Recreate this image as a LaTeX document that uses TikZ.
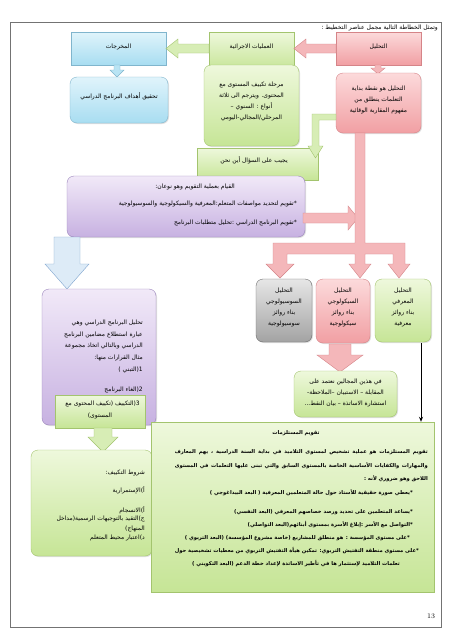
\documentclass[tikz,border=0pt]{standalone}
\usepackage{fontspec}
\usetikzlibrary{shadows,arrows.meta}
\TeXXeTstate=1
\newfontfamily\arabicfont[Script=Arabic]{DejaVu Sans}
\newcommand\rtlline[1]{\beginR #1\endR}
\definecolor{gT}{HTML}{EEF8DC}\definecolor{gD}{HTML}{C6E596}\definecolor{gB}{HTML}{A3C46E}
\definecolor{pT}{HTML}{FCDADB}\definecolor{pD}{HTML}{F19FA3}\definecolor{pB}{HTML}{D58488}
\definecolor{bT}{HTML}{E0F4FB}\definecolor{bD}{HTML}{A8DDF1}\definecolor{bB}{HTML}{80B5CD}
\definecolor{vT}{HTML}{F1E9F8}\definecolor{vD}{HTML}{C7B1E1}\definecolor{vB}{HTML}{9B85BC}
\definecolor{kT}{HTML}{E6E6E6}\definecolor{kD}{HTML}{A3A3A3}\definecolor{kB}{HTML}{6E6E6E}
\definecolor{lbF}{HTML}{DDEBF7}\definecolor{lbB}{HTML}{7FA5CF}
\tikzset{
  gbox/.style={draw=gB, top color=gT, bottom color=gD},
  pbox/.style={draw=pB, top color=pT, bottom color=pD},
  bbox/.style={draw=bB, top color=bT, bottom color=bD},
  vbox/.style={draw=vB, top color=vT, bottom color=vD},
  kbox/.style={draw=kB, top color=kT, bottom color=kD},
  rnd/.style={rounded corners=7pt},
  sh/.style={drop shadow={shadow xshift=1pt, shadow yshift=-1pt, opacity=0.25}},
  txt/.style={font=\arabicfont\fontsize{6}{11}\selectfont, align=center, inner sep=0pt},
  btxt/.style={font=\arabicfont\bfseries\fontsize{5.2}{7}\selectfont, inner sep=0pt},
  garrow/.style={draw=gB, fill=gD!70},
  parrow/.style={draw=pB, fill=pD!75},
  barrow/.style={draw=bB, fill=bD!80},
  lbarrow/.style={draw=lbB, fill=lbF},
  frame/.style={draw=black!55, line width=0.6pt},
}
\begin{document}
\begin{tikzpicture}[x=1pt,y=1pt]
\useasboundingbox (0,0) rectangle (452,-640);
\fill[white] (0,0) rectangle (452,-640);
\draw[frame] (10,-22) rectangle (441,-627);
\node[txt, anchor=east] (title) at (438,-28) {\rtlline{وتمثل الخطاطة التالية مجمل عناصر التخطيط :}};
\node[font=\fontsize{7}{8}\selectfont] (pg) at (431,-616) {13};

% top row
\node[bbox, sh, minimum width=95pt, minimum height=33pt] (out) at (118.5,-48.5) {};
\node[gbox, sh, minimum width=85pt, minimum height=38pt] (proc) at (251.5,-51) {};
\node[pbox, sh, minimum width=85pt, minimum height=33pt] (ana) at (378.5,-48.5) {};
\node[txt] (outt) at (118.5,-47) {\rtlline{المخرجات}};
\node[txt] (proct) at (251.5,-47) {\rtlline{العمليات الاجرائية}};
\node[txt] (anat) at (378.5,-47) {\rtlline{التحليل}};

\path[parrow] (336,-44) -- (306,-44) -- (306,-39) -- (294,-48.5) -- (306,-58) -- (306,-53) -- (336,-53) -- cycle;
\path[garrow] (209,-44) -- (178,-44) -- (178,-39) -- (166,-48.5) -- (178,-58) -- (178,-53) -- (209,-53) -- cycle;
\path[parrow] (375,-65) -- (381,-65) -- (381,-68) -- (385,-68) -- (378,-74) -- (371,-68) -- (375,-68) -- cycle;
\path[barrow] (114,-65) -- (120,-65) -- (120,-70) -- (124,-70) -- (117,-77) -- (110,-70) -- (114,-70) -- cycle;

\node[bbox, rnd, sh, minimum width=98pt, minimum height=46pt] (goal) at (119,-100) {};
\node[txt] (goalt) at (119,-96) {\rtlline{تحقيق أهداف البرنامج الدراسي}};

\node[gbox, rnd, sh, minimum width=95pt, minimum height=81pt] (phase) at (251.5,-105.5) {};
\node[txt] (phaset) at (251.5,-101) {\rtlline{مرحلة تكييف المستوى مع}\\\rtlline{المحتوى. ويترجم الى ثلاثة}\\\rtlline{أنواع : السنوي –}\\\rtlline{المرحلي/المجالي-اليومي}};

\node[pbox, rnd, sh, minimum width=85pt, minimum height=60pt] (anadef) at (378.5,-103) {};
\node[txt] (anadeft) at (378.5,-100) {\rtlline{التحليل هو نقطة بداية}\\\rtlline{التعلمات ينطلق من}\\\rtlline{مفهوم المقاربة الوقائية}};

% where box
\node[gbox, sh, minimum width=121pt, minimum height=32pt] (where) at (257.5,-164) {};
\node[txt] (wheret) at (254,-160) {\rtlline{يجيب على السؤال أين نحن}};
\path[garrow] (336,-114) -- (312,-114) -- (312,-146) -- (308,-146) -- (315.5,-158) -- (323,-146) -- (319,-146) -- (319,-120) -- (336,-120) -- cycle;

% evaluation box
\node[vbox, rnd, sh, minimum width=238pt, minimum height=61pt] (evalb) at (186,-206.5) {};
\node[txt, anchor=east] (ev1) at (235,-187) {\rtlline{القيام بعملية التقويم وهو نوعان:}};
\node[txt, anchor=east] (ev2) at (297,-204) {\rtlline{*تقويم لتحديد مواصفات المتعلم:المعرفية والسيكولوجية والسوسيولوجية}};
\node[txt, anchor=east] (ev3) at (297,-223) {\rtlline{*تقويم البرنامج الدراسي :تحليل متطلبات البرنامج}};

\path[parrow] (303,-213) -- (348,-213) -- (348,-206) -- (358,-218) -- (348,-230) -- (348,-223) -- (303,-223) -- cycle;
\path[parrow] (355,-133) -- (365,-133) -- (365,-243) -- (405,-243) -- (405,-264) -- (410,-264) -- (399,-278) -- (388,-264) -- (393,-264) -- (393,-254) -- (365,-254) -- (365,-264) -- (371,-264) -- (360,-278) -- (349,-264) -- (355,-264) -- (355,-254) -- (287,-254) -- (287,-264) -- (294,-264) -- (280,-278) -- (266,-264) -- (273,-264) -- (273,-243) -- (355,-243) -- cycle;

% three analyses
\node[kbox, rnd, sh, minimum width=56pt, minimum height=63pt] (soc) at (284,-310.5) {};
\node[txt] (soct) at (284,-307.5) {\rtlline{التحليل}\\\rtlline{السوسيولوجي}\\\rtlline{بناء روائز}\\\rtlline{سوسيولوجية}};
\node[pbox, rnd, sh, minimum width=54pt, minimum height=64pt] (psy) at (343,-311) {};
\node[txt] (psyt) at (343,-307.5) {\rtlline{التحليل}\\\rtlline{السيكولوجي}\\\rtlline{بناء روائز}\\\rtlline{سيكولوجية}};
\node[gbox, rnd, sh, minimum width=56pt, minimum height=63pt] (cog) at (403,-310.5) {};
\node[txt] (cogt) at (403,-307.5) {\rtlline{التحليل}\\\rtlline{المعرفي}\\\rtlline{بناء روائز}\\\rtlline{معرفية}};

\path[parrow] (329,-344) -- (351,-344) -- (351,-355) -- (363,-355) -- (340,-372) -- (317,-355) -- (329,-355) -- cycle;
\node[gbox, rnd, sh, minimum width=103pt, minimum height=46pt] (tools) at (345.5,-394) {};
\node[txt] (toolst) at (345.5,-393) {\rtlline{في هذين المجالين نعتمد على}\\\rtlline{المقابلة – الاستبيان –الملاحظة-}\\\rtlline{استشارة الاساتذة – بيان النقط...}};

% left column
\path[lbarrow] (54,-237) -- (80,-237) -- (80,-264) -- (89,-264) -- (67,-289) -- (45,-264) -- (54,-264) -- cycle;
\node[vbox, rnd, sh, minimum width=114pt, minimum height=136pt] (prog) at (99,-357) {};
\node[txt, anchor=east] (pr1) at (143,-323) {\rtlline{تحليل البرنامج الدراسي وهي}};
\node[txt, anchor=east] (pr2) at (143,-335) {\rtlline{عبارة استطلاع مضامين البرنامج}};
\node[txt, anchor=east] (pr3) at (143,-346) {\rtlline{الدراسي وبالتالي اتخاذ مجموعة}};
\node[txt, anchor=east] (pr4) at (143,-358) {\rtlline{مثال القرارات منها:}};
\node[txt, anchor=east] (pr5) at (143,-370) {\rtlline{1(التبني )}};
\node[txt, anchor=east] (pr6) at (143,-390) {\rtlline{2(الغاء البرنامج}};
\node[gbox, minimum width=90pt, minimum height=33pt] (adapt) at (100,-411.5) {};
\node[txt, anchor=east] (ad1) at (140,-404) {\rtlline{3(التكييف (تكييف المحتوى مع}};
\node[txt] (ad2) at (100,-416) {\rtlline{المستوى)}};

\path[garrow] (94,-428) -- (112,-428) -- (112,-437) -- (118,-437) -- (103,-452) -- (88,-437) -- (94,-437) -- cycle;
\node[gbox, rnd, sh, minimum width=121pt, minimum height=106pt] (cond) at (91.5,-503) {};
\node[txt, anchor=east] (c1) at (145,-473) {\rtlline{شروط التكييف:}};
\node[txt, anchor=east] (c2) at (145,-490) {\rtlline{أ)الإستمرارية}};
\node[txt, anchor=east] (c3) at (145,-510) {\rtlline{أ)الانسجام}};
\node[txt, anchor=east] (c4) at (145,-519) {\rtlline{ج)التقيد بالتوجيهات الرسمية(مداخل}};
\node[txt, anchor=east] (c5) at (145,-529) {\rtlline{المنهاج)}};
\node[txt, anchor=east] (c6) at (145,-538) {\rtlline{د)اعتبار محيط المتعلم}};

% big box
\node[gbox, sh, minimum width=283pt, minimum height=170pt] (big) at (292.5,-507) {};
\coordinate (blk) at (421,-343);
\draw[-{Stealth[length=5pt,width=4pt]}, line width=0.8pt] (blk) -- (big.north -| blk);
\node[btxt] (b0) at (296,-433) {\rtlline{تقويم المستلزمات}};
\node[btxt, anchor=east] (b1) at (428,-452) {\hbox to 253pt{\beginR تقويم المستلزمات هو عملية تشخيص لمستوى التلاميذ في بداية السنة الدراسية ، يهم المعارف\endR}};
\node[btxt, anchor=east] (b2) at (428,-466) {\hbox to 253pt{\beginR والمهارات والكفايات الأساسية الخاصة بالمستوى السابق والتي تبنى عليها التعلمات في المستوى\endR}};
\node[btxt, anchor=east] (b3) at (428,-479) {\rtlline{اللاحق وهو ضروري لأنه :}};
\node[btxt, anchor=east] (b4) at (413,-493) {\rtlline{*يعطي صورة حقيقية للأستاذ حول حالة المتعلمين المعرفية ( البعد البيداغوجي )}};
\node[btxt, anchor=east] (b5) at (413,-512) {\rtlline{*يساعد المتعلمين على تحديد ورصد خصاصهم المعرفي (البعد النفسي)}};
\node[btxt, anchor=east] (b6) at (413,-525) {\rtlline{*التواصل مع الأسر :إبلاغ الأسرة بمستوى أبنائهم(البعد التواصلي)}};
\node[btxt, anchor=east] (b7) at (410,-538) {\rtlline{*على مستوى المؤسسة : هو منطلق للمشاريع (خاصة مشروع المؤسسة) (البعد التربوي )}};
\node[btxt, anchor=east] (b8) at (419,-551) {\rtlline{*على مستوى منطقة التفتيش التربوي: تمكين هيأة التفتيش التربوي من معطيات تشخيصية حول}};
\node[btxt, anchor=east] (b9) at (400,-564) {\rtlline{تعلمات التلاميذ لإستثمار ها في تأطير الاساتذة لإعداد خطة الدعم (البعد التكويني )}};
\end{tikzpicture}
\end{document}
